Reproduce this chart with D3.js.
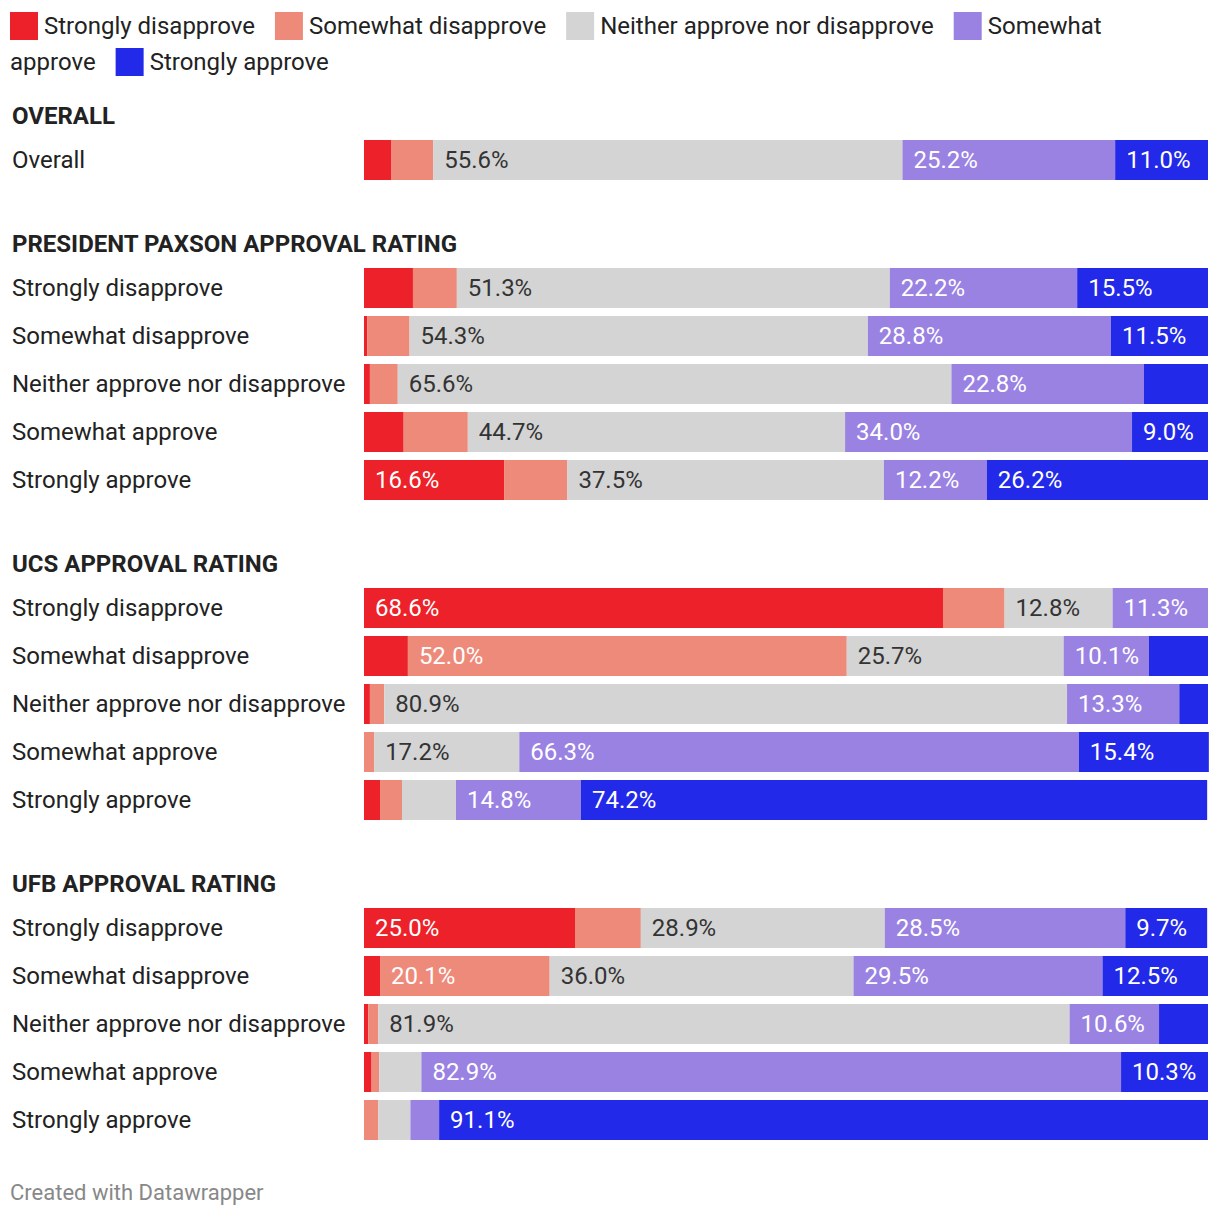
<!DOCTYPE html>
<html><head><meta charset="utf-8">
<script src="https://cdn.jsdelivr.net/npm/d3@7"></script>
<style>
body{margin:0;background:#fff;font-family:Roboto,"Noto Sans",sans-serif;}
svg{display:block;}
</style></head>
<body>
<svg id="chart" width="1220" height="1218"></svg>
<script>
const categories = ["Strongly disapprove","Somewhat disapprove","Neither approve nor disapprove","Somewhat approve","Strongly approve"];
const colors = ["#ed2129","#ee8a7a","#d4d4d4","#9a82e3","#2229e8"];
const sections = ["OVERALL","PRESIDENT PAXSON APPROVAL RATING","UCS APPROVAL RATING","UFB APPROVAL RATING"];
const overallRows = ["Overall"];
const ratingRows = ["Strongly disapprove","Somewhat disapprove","Neither approve nor disapprove","Somewhat approve","Strongly approve"];
const overallValues = [[3.2,5.0,55.6,25.2,11.0]];
const paxsonValues = [
  [5.8,5.2,51.3,22.2,15.5],
  [0.4,5.0,54.3,28.8,11.5],
  [0.7,3.3,65.6,22.8,7.6],
  [4.7,7.6,44.7,34.0,9.0],
  [16.6,7.5,37.5,12.2,26.2]
];
const ucsValues = [
  [68.6,7.3,12.8,11.3,0.0],
  [5.2,52.0,25.7,10.1,7.0],
  [0.7,1.7,80.9,13.3,3.4],
  [0.0,1.2,17.2,66.3,15.4],
  [1.9,2.6,6.4,14.8,74.2]
];
const ufbValues = [
  [25.0,7.8,28.9,28.5,9.7],
  [1.9,20.1,36.0,29.5,12.5],
  [0.5,1.2,81.9,10.6,5.8],
  [0.9,0.9,5.0,82.9,10.3],
  [0.0,1.7,3.8,3.4,91.1]
];
const sectionData = [
  {title:sections[0], rows:overallRows, values:overallValues},
  {title:sections[1], rows:ratingRows, values:paxsonValues},
  {title:sections[2], rows:ratingRows, values:ucsValues},
  {title:sections[3], rows:ratingRows, values:ufbValues}
];

const svg = d3.select("#chart");

// legend with word wrapping
(function(){
  const lg = svg.append("g").attr("font-size",24).attr("fill","#222");
  const left = 10, limit = 1180, lineH = 36;
  const measure = t => { const n = lg.append("text").text(t); const w = n.node().getComputedTextLength(); n.remove(); return w; };
  const spaceW = measure("a b") - measure("ab");
  let cx = left, line = 0;
  categories.forEach((c,i) => {
    const words = c.split(" ");
    const firstW = measure(words[0]);
    if (cx + 34 + firstW > limit) { cx = left; line++; }
    const cy = 26 + line*lineH;
    lg.append("rect").attr("x",cx).attr("y",cy-14).attr("width",28).attr("height",28).attr("fill",colors[i]);
    let tx = cx + 34;
    let chunk = [];
    let chunkStart = tx;
    const flush = () => {
      if (chunk.length) lg.append("text").attr("x",chunkStart).attr("y",26+line*lineH).attr("dy","0.35em").text(chunk.join(" "));
    };
    words.forEach((w,wi) => {
      const ww = measure(w);
      const needed = (chunk.length ? spaceW : 0) + ww;
      if (chunk.length && tx + needed > limit) {
        flush(); line++; chunk = [w]; chunkStart = left; tx = left + ww;
      } else { chunk.push(w); tx += needed; }
    });
    flush();
    cx = tx + 20;
  });
})();

const x = d3.scaleLinear().domain([0,100]).range([364,1208]);
const barH = 40, pitch = 48;
let y0 = 140;
sectionData.forEach((sec) => {
  svg.append("text").attr("x",12).attr("y",y0-24).attr("dy","0.35em")
    .attr("font-size",24).attr("font-weight",700).attr("fill","#222").text(sec.title);
  sec.rows.forEach((r,ri) => {
    const top = y0 + ri*pitch;
    svg.append("text").attr("x",12).attr("y",top+barH/2).attr("dy","0.35em")
      .attr("font-size",24).attr("fill","#222").text(r);
    const vals = sec.values[ri];
    let cum = 0;
    const segs = vals.map((v,i)=>{const s={v,i,start:cum}; cum+=v; return s;});
    const g = svg.append("g");
    g.selectAll("rect").data(segs).join("rect")
      .attr("x",d=>x(d.start)).attr("y",top)
      .attr("width",d=>Math.max(0,x(d.start+d.v)-x(d.start)))
      .attr("height",barH).attr("fill",d=>colors[d.i]);
    g.selectAll("text").data(segs.filter(d=>d.v>=8.5)).join("text")
      .attr("x",d=>x(d.start)+11).attr("y",top+barH/2).attr("dy","0.35em")
      .attr("font-size",24).attr("fill",d=>d.i===2?"#333":"#fff")
      .text(d=>d.v.toFixed(1)+"%");
  });
  y0 += sec.rows.length*pitch - pitch + barH + 64 + 24;
});
svg.append("text").attr("x",10).attr("y",1192).attr("dy","0.35em")
  .attr("font-size",22).attr("fill","#888").text("Created with Datawrapper");
</script>
</body></html>
